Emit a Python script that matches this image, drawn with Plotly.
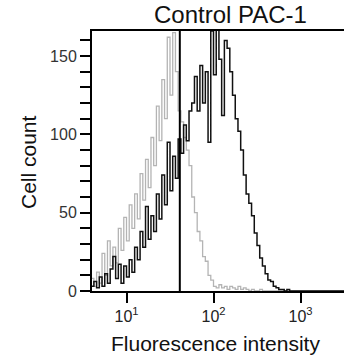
import numpy as np
import plotly.graph_objects as go

# Channel numbers (128 channels over 4 decades, 32 channels per decade)
channels = list(range(19, 113))
channels_per_decade = 32

# Control (gray) histogram, cell counts per channel
control_counts = [
    8, 3, 12, 5, 24, 10, 32, 16, 28, 18,
    40, 26, 47, 32, 55, 40, 62, 46, 75, 58,
    84, 66, 98, 80, 118, 96, 135, 110, 162, 125,
    165, 140, 115, 108, 98, 90, 80, 60, 50, 38,
    32, 22, 19, 10, 7, 3, 2, 4, 2, 3,
    1, 3, 2, 1, 3, 1, 2, 1, 0, 1,
    0, 0, 1, 0, 0, 0, 0, 0, 0, 0,
    0, 0, 0, 0, 0, 0, 0, 0, 0, 0,
    0, 0, 0, 0, 0, 0, 0, 0, 0, 0,
    0, 0, 0, 0,
]

# PAC-1 (black) histogram, cell counts per channel
pac1_counts = [
    3, 6, 2, 9, 3, 11, 5, 14, 22, 8,
    17, 5, 16, 9, 20, 12, 28, 20, 38, 28,
    54, 33, 48, 38, 62, 46, 74, 55, 95, 64,
    86, 72, 97, 88, 106, 96, 115, 120, 137, 115,
    144, 120, 140, 95, 166, 138, 168, 148, 112, 160,
    155, 140, 125, 110, 102, 90, 74, 62, 56, 48,
    37, 29, 21, 16, 11, 7, 6, 3, 2, 1,
    1, 0, 1, 0, 0, 0, 0, 0, 0, 0,
    0, 0, 0, 0, 0, 0, 0, 0, 0, 0,
    0, 0, 0, 0,
]

marker_intensity = 41
y_ticks = [0, 50, 100, 150]
x_ticks = [10, 100, 1000]
x_tick_labels = ["10<sup>1</sup>", "10<sup>2</sup>", "10<sup>3</sup>"]

intensity = [10 ** (c / channels_per_decade) for c in channels]

FONT = "Liberation Sans, Arial, Helvetica, sans-serif"

fig = go.Figure()
fig.add_trace(go.Scatter(
    x=intensity, y=control_counts, mode="lines", line_shape="hv",
    line=dict(color="#b4b4b4", width=1.3), showlegend=False, hoverinfo="skip"))
fig.add_trace(go.Scatter(
    x=intensity, y=pac1_counts, mode="lines", line_shape="hv",
    line=dict(color="#111111", width=1.5), showlegend=False, hoverinfo="skip"))

fig.add_shape(type="line", xref="x", yref="paper",
              x0=marker_intensity, x1=marker_intensity, y0=0, y1=1,
              line=dict(color="black", width=2))

fig.update_layout(
    width=344, height=356,
    margin=dict(l=92, r=0, t=31, b=65),
    paper_bgcolor="white", plot_bgcolor="white",
    font=dict(family=FONT, color="#222222"),
    annotations=[
        dict(text="Control PAC-1", xref="paper", yref="paper",
             x=(230 - 92) / 252, y=(291 - 14) / 260,
             xanchor="center", yanchor="middle", showarrow=False,
             font=dict(size=24, color="#111111")),
        dict(text="Fluorescence intensity", xref="paper", yref="paper",
             x=(215 - 92) / 252, y=(291 - 343) / 260,
             xanchor="center", yanchor="middle", showarrow=False,
             font=dict(size=21, color="#111111")),
        dict(text="Cell count", xref="paper", yref="paper",
             x=(28 - 92) / 252, y=(291 - 162) / 260, textangle=-90,
             xanchor="center", yanchor="middle", showarrow=False,
             font=dict(size=21, color="#111111")),
    ],
)

fig.update_xaxes(
    type="log", range=[np.log10(10) - (126.5 - 92) / 87, 1 + (344 - 126.5) / 87],
    showgrid=False, zeroline=False,
    showline=True, linecolor="black", linewidth=2, mirror=True,
    ticks="outside", ticklen=10, tickwidth=2, tickcolor="black",
    tickvals=x_ticks, ticktext=x_tick_labels,
    tickfont=dict(size=16, color="#222222"),
)
fig.update_yaxes(
    range=[0, 166], showgrid=False, zeroline=False,
    showline=True, linecolor="black", linewidth=2, mirror=False,
    ticks="outside", ticklen=10, tickwidth=2, tickcolor="black",
    tickvals=y_ticks, tickfont=dict(size=16, color="#333333"),
    minor=dict(dtick=10, ticks="outside", ticklen=10, tickwidth=2, tickcolor="black"),
)

fig.write_html("out.html")
